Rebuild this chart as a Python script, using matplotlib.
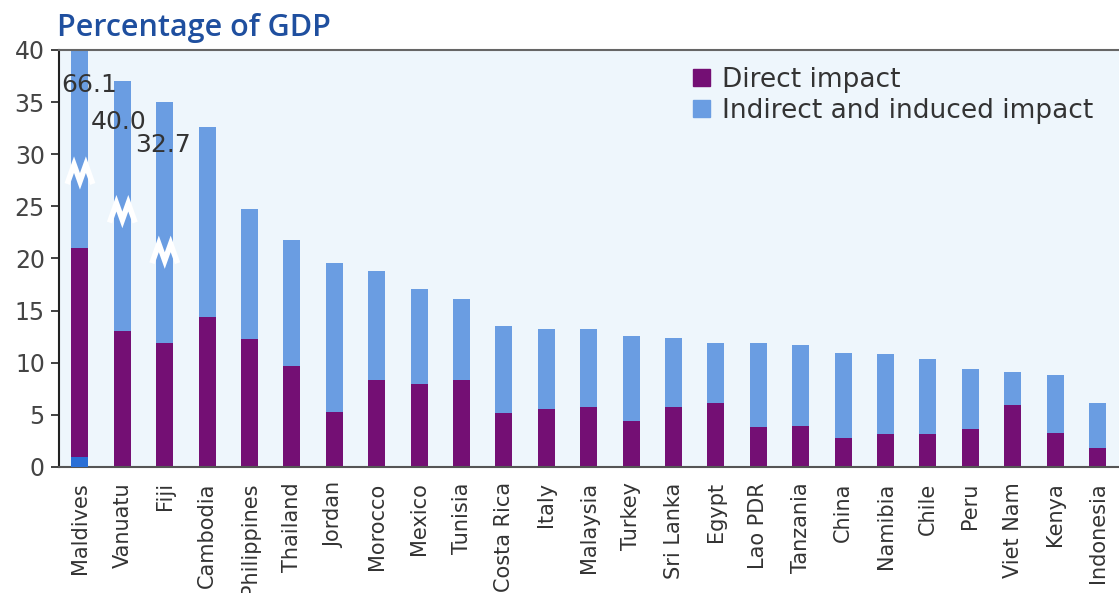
import matplotlib
matplotlib.use("Agg")
import matplotlib.pyplot as plt
from matplotlib.patches import Patch
import numpy as np

countries = ["Maldives", "Vanuatu", "Fiji", "Cambodia", "Philippines", "Thailand",
             "Jordan", "Morocco", "Mexico", "Tunisia", "Costa Rica", "Italy",
             "Malaysia", "Turkey", "Sri Lanka", "Egypt", "Lao PDR", "Tanzania",
             "China", "Namibia", "Chile", "Peru", "Viet Nam", "Kenya", "Indonesia"]
direct = [21.0, 13.0, 11.9, 14.4, 12.3, 9.7, 5.3, 8.3, 8.0, 8.3, 5.2, 5.6,
          5.8, 4.4, 5.8, 6.1, 3.8, 3.9, 2.8, 3.2, 3.2, 3.6, 5.9, 3.3, 1.8]
total = [40.0, 37.0, 35.0, 32.6, 24.7, 21.8, 19.6, 18.8, 17.1, 16.1, 13.5, 13.2,
         13.2, 12.6, 12.4, 11.9, 11.9, 11.7, 10.9, 10.8, 10.4, 9.4, 9.1, 8.8, 6.1]
maldives_extra = [1.0]
truncated_labels = ["66.1", "40.0", "32.7"]
break_levels = [28.2, 24.5, 20.6]

indirect = [t - d for t, d in zip(total, direct)]

C_DIRECT = "#740f74"
C_INDIRECT = "#6a9de2"
C_EXTRA = "#2a6fd6"
BG = "#eef6fc"

fig = plt.figure(figsize=(11.19, 5.93), dpi=100)
ax = fig.add_axes([0.0525, 0.2125, 0.9473, 0.7032])
ax.set_facecolor(BG)

x = np.arange(len(countries))
w = 0.4
ax.bar(x, direct, width=w, color=C_DIRECT, label="Direct impact", zorder=2)
ax.bar(x, indirect, bottom=direct, width=w, color=C_INDIRECT,
       label="Indirect and induced impact", zorder=2)
ax.bar(x[:1], maldives_extra, width=w, color=C_EXTRA, zorder=3)

# break marks
for i, lvl in enumerate(break_levels):
    zx = i + np.array([-0.28, -0.14, 0.0, 0.14, 0.28])
    zy = lvl + np.array([-0.8, 0.8, -0.8, 0.8, -0.8])
    ax.plot(zx, zy, color="white", lw=4, solid_joinstyle="miter", zorder=4)

# truncated value labels
offsets = [(0.22, 36.6), (-0.08, 33.1), (-0.03, 30.9)]
for i, (lab, (dx, ty)) in enumerate(zip(truncated_labels, offsets)):
    ax.text(i + dx, ty, lab, ha="center", va="center", fontsize=18,
            color="#333333", zorder=5)

ax.set_xlim(-0.5, 24.5)
ax.set_ylim(0, 40)
ax.set_yticks(np.arange(0, 41, 5))
ax.tick_params(axis="y", length=6, width=1.2, color="#222222", pad=4,
               labelsize=17, labelcolor="#444444")
ax.set_xticks(x)
ax.set_xticklabels(countries, rotation=90, ha="center", va="top",
                   fontsize=15, color="#333333")
ax.tick_params(axis="x", length=0, pad=11)

ax.spines["right"].set_visible(False)
ax.spines["left"].set_color("#222222")
ax.spines["left"].set_linewidth(1.5)
ax.spines["bottom"].set_color("#555555")
ax.spines["bottom"].set_linewidth(1.5)
ax.spines["top"].set_color("#666666")
ax.spines["top"].set_linewidth(1.5)

handles = [Patch(color=C_DIRECT, label="Direct impact"),
           Patch(color=C_INDIRECT, label="Indirect and induced impact")]
leg = ax.legend(handles=handles, loc="upper left", bbox_to_anchor=(0.598, 0.96),
                frameon=False, fontsize=19, handlelength=0.65, handleheight=0.65,
                handletextpad=0.45, labelspacing=0.2, borderaxespad=0, borderpad=0)
for t in leg.get_texts():
    t.set_color("#333333")

fig.text(0.051, 0.94, "Percentage of GDP", fontsize=22, color="#1f4f9f",
         fontweight="semibold", family=["Open Sans", "DejaVu Sans"], ha="left", va="baseline")

fig.savefig("out.png", dpi=100, facecolor="white")
